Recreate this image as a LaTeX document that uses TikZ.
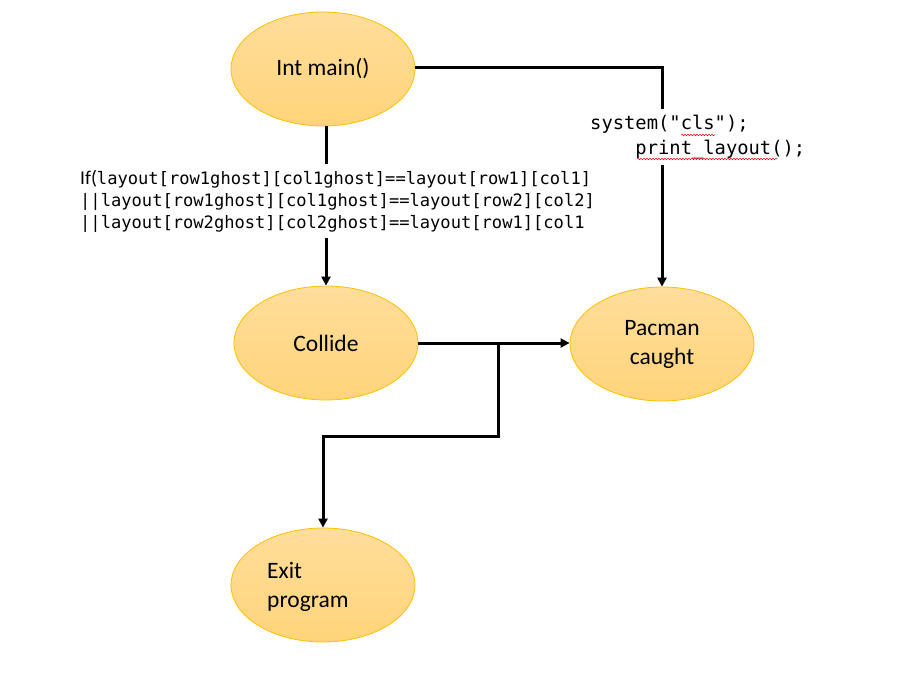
\documentclass[tikz,border=0pt]{standalone}
\usepackage{fontspec}
\setmainfont{Carlito}
\newfontfamily\codefont{DejaVu Sans Mono}
\usetikzlibrary{arrows.meta,shapes.geometric,decorations.pathmorphing}

\definecolor{ovaltop}{RGB}{255,221,155}
\definecolor{ovalbot}{RGB}{255,212,122}
\definecolor{ovalrim}{RGB}{255,192,0}

\begin{document}
\begin{tikzpicture}[x=1pt,y=-1pt,
  oval/.style={ellipse, draw=ovalrim, line width=0.8pt,
    top color=ovaltop, bottom color=ovalbot,
    minimum width=184pt, minimum height=114pt, inner sep=0pt,
    font=\fontsize{23.5}{29}\selectfont, align=center},
  flow/.style={line width=3pt, -{Triangle[length=9pt,width=9pt]}},
  codeblock/.style={fill=white, inner xsep=4pt, inner ysep=6pt, align=left},
  spell/.style={red, line width=0.6pt, decorate,
    decoration={snake, amplitude=0.7pt, segment length=3pt}}]

\useasboundingbox (0,0) rectangle (901,693);

% states
\node[oval] (main)   at (323,69)  {Int main()};
\node[oval] (collide) at (326,343) {Collide};
\node[oval] (pacman) at (662,344) {Pacman\\caught};
\node[oval] (exit)   at (323,585) {};
\node[anchor=west, font=\fontsize{23.5}{29}\selectfont, align=left, inner sep=0pt]
  (exitlabel) at (267,587) {Exit\\program};

% transitions
\draw[flow] (main.east |- 0,67) -| (pacman.north);
\draw[flow] (collide.north |- main.south) -- (collide.north);
\draw[flow] (collide.east) -- (pacman.west |- collide.east);
\coordinate (branch) at (498,343);
\draw[flow] (branch) -- ++(0,93) -| (exit.north);

% transition labels
\node[codeblock, anchor=west, font=\codefont\fontsize{17.1}{22}\selectfont]
  (cond) at (76,201)
  {{\rmfamily\fontsize{19.5}{22}\selectfont If(}layout[row1ghost][col1ghost]==layout[row1][col1]\\
   ||layout[row1ghost][col1ghost]==layout[row2][col2]\\
   ||layout[row2ghost][col2ghost]==layout[row1][col1};

\node[codeblock, anchor=west, font=\codefont\fontsize{18.8}{25}\selectfont]
  (redraw) at (586,137)
  {system("cls");\\
   \phantom{xxxx}print\_layout();};

% spell-check marks
\draw[spell] (681,135) -- (715,135);
\draw[spell] (637,159) -- (777,159);

\end{tikzpicture}
\end{document}
